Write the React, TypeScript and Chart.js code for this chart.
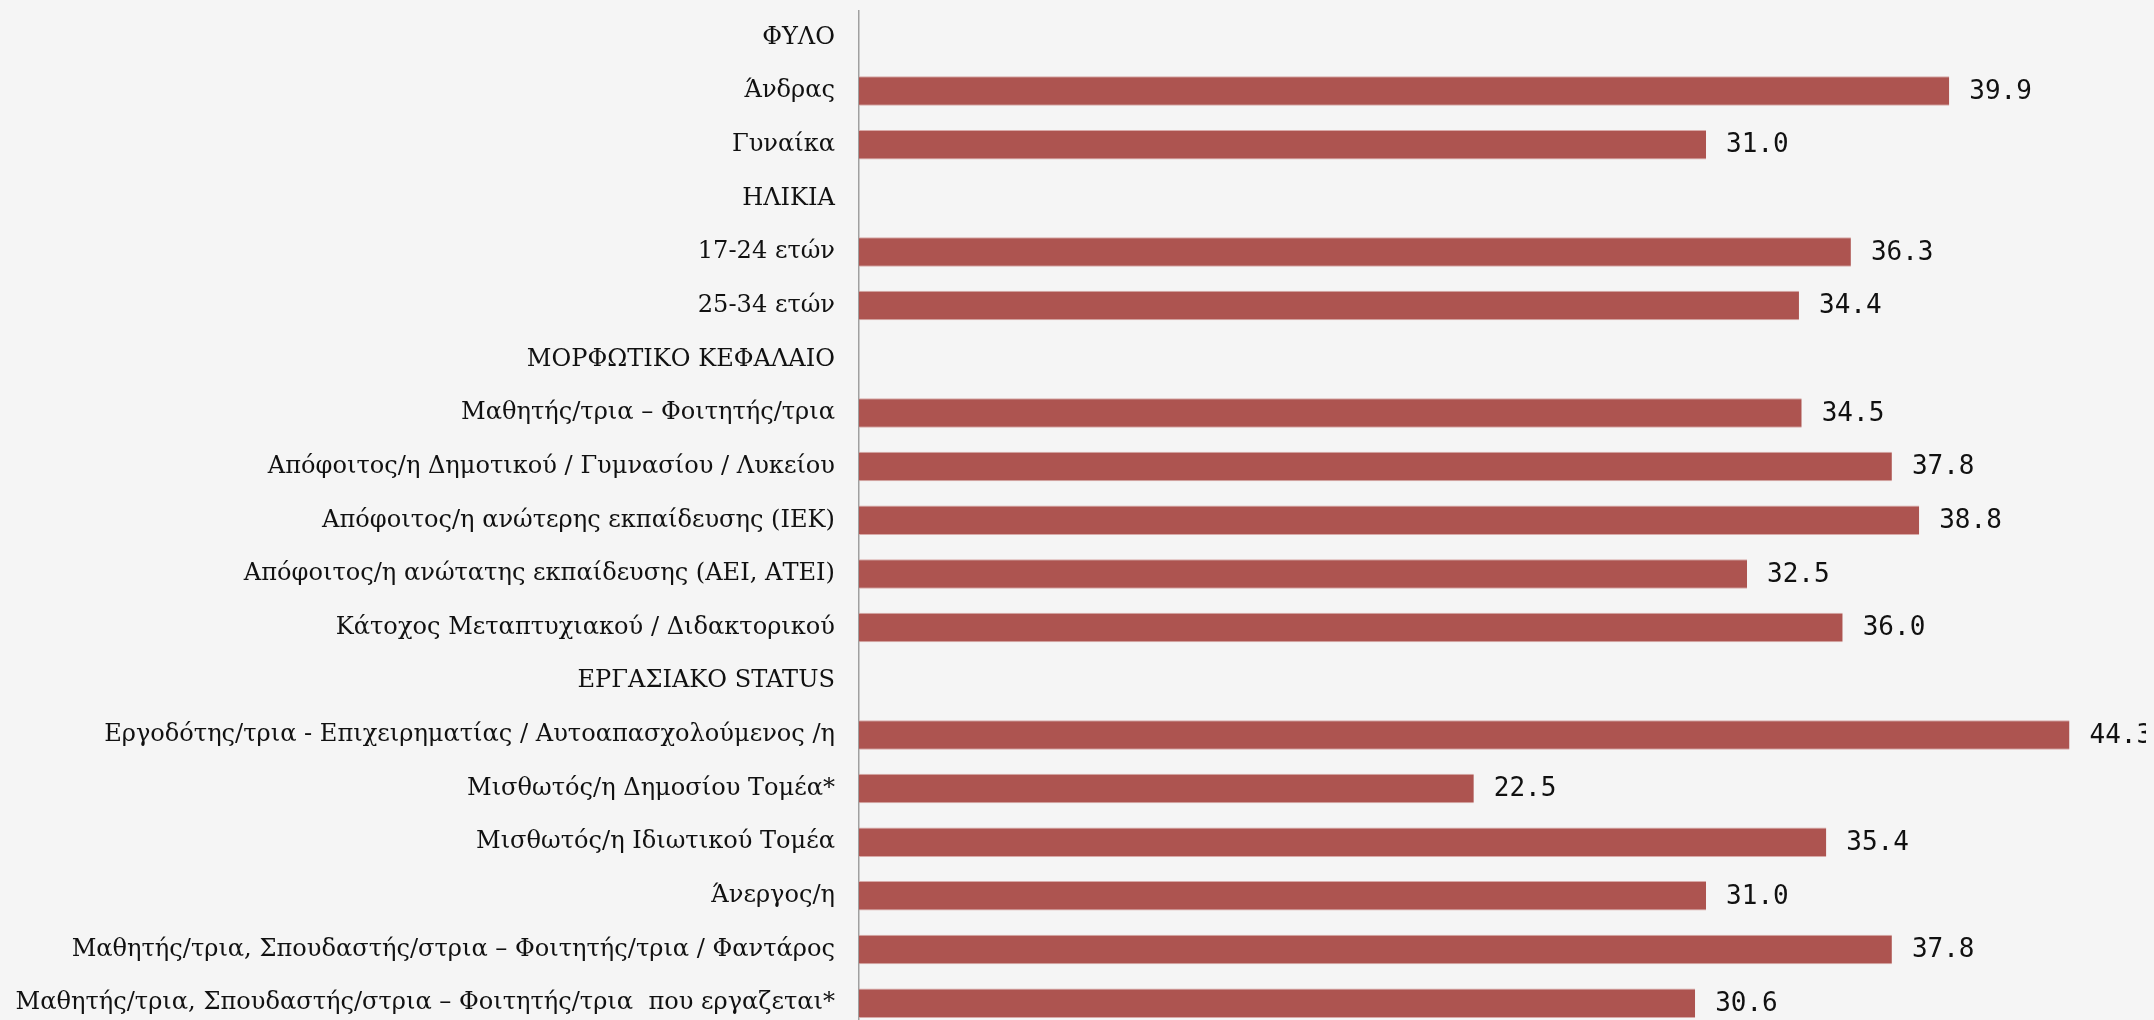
import React, { useEffect, useRef } from "react";
import { Chart, registerables } from "chart.js";

Chart.register(...registerables);

const categories: string[] = [
  "ΦΥΛΟ",
  "Άνδρας",
  "Γυναίκα",
  "ΗΛΙΚΙΑ",
  "17-24 ετών",
  "25-34 ετών",
  "ΜΟΡΦΩΤΙΚΟ ΚΕΦΑΛΑΙΟ",
  "Μαθητής/τρια – Φοιτητής/τρια",
  "Απόφοιτος/η Δημοτικού / Γυμνασίου / Λυκείου",
  "Απόφοιτος/η ανώτερης εκπαίδευσης (ΙΕΚ)",
  "Απόφοιτος/η ανώτατης εκπαίδευσης (ΑΕΙ, ΑΤΕΙ)",
  "Κάτοχος Μεταπτυχιακού / Διδακτορικού",
  "ΕΡΓΑΣΙΑΚΟ STATUS",
  "Εργοδότης/τρια - Επιχειρηματίας / Αυτοαπασχολούμενος /η",
  "Μισθωτός/η Δημοσίου Τομέα*",
  "Μισθωτός/η Ιδιωτικού Τομέα",
  "Άνεργος/η",
  "Μαθητής/τρια, Σπουδαστής/στρια – Φοιτητής/τρια / Φαντάρος",
  "Μαθητής/τρια, Σπουδαστής/στρια – Φοιτητής/τρια  που εργαζεται*",
];

const values: (number | null)[] = [
  null, 39.9, 31.0,
  null, 36.3, 34.4,
  null, 34.5, 37.8, 38.8, 32.5, 36.0,
  null, 44.3, 22.5, 35.4, 31.0, 37.8, 30.6,
];

const xMin = 0;
const xMax = 47.1;

const valueLabelPlugin = {
  id: "valueLabels",
  afterDatasetsDraw(chart: any) {
    const ctx = chart.ctx;
    const meta = chart.getDatasetMeta(0);
    ctx.save();
    ctx.font = '26px "DejaVu Sans Mono"';
    ctx.fillStyle = "#111111";
    ctx.textAlign = "left";
    ctx.textBaseline = "middle";
    meta.data.forEach((el: any, i: number) => {
      const v = values[i];
      if (v === null || v === undefined) return;
      ctx.fillText(v.toFixed(1), el.x + 20, el.y + 1);
    });
    ctx.restore();
  },
};

export default function App() {
  const ref = useRef<HTMLCanvasElement | null>(null);

  useEffect(() => {
    document.documentElement.style.overflow = "hidden";
    document.body.style.background = "#f5f5f5";
    document.documentElement.style.background = "#f5f5f5";
    if (!ref.current) return;
    const chart = new Chart(ref.current, {
      type: "bar",
      data: {
        labels: categories,
        datasets: [
          {
            data: values as any,
            backgroundColor: "#ad5450",
            borderColor: "#d8aaa8",
            borderWidth: { top: 1, bottom: 1, left: 0, right: 0 } as any,
            borderSkipped: false,
            barPercentage: 0.55,
            categoryPercentage: 1,
          },
        ],
      },
      options: {
        indexAxis: "y",
        animation: false,
        responsive: false,
        maintainAspectRatio: false,
        layout: { padding: { top: 2.5, bottom: 2, left: 0, right: 0 } },
        plugins: {
          legend: { display: false },
          tooltip: { enabled: false },
        },
        scales: {
          x: {
            min: xMin,
            max: xMax,
            display: false,
            grid: { display: false },
          },
          y: {
            grid: { display: false, drawTicks: false },
            border: { display: true, color: "#a0a0a0", width: 1.5 },
            ticks: {
              padding: 24,
              color: "#111111",
              font: { family: '"DejaVu Serif"', size: 24.1 },
              autoSkip: false,
            },
            afterFit(scale: any) {
              scale.width = 851;
              scale.paddingTop = 0;
              scale.paddingBottom = 0;
            },
          },
        },
      },
      plugins: [valueLabelPlugin],
    });
    return () => chart.destroy();
  }, []);

  return (
    <div style={{ background: "#f5f5f5" }}>
      <canvas ref={ref} width={2138} height={1024} style={{ display: "block" }} />
    </div>
  );
}
